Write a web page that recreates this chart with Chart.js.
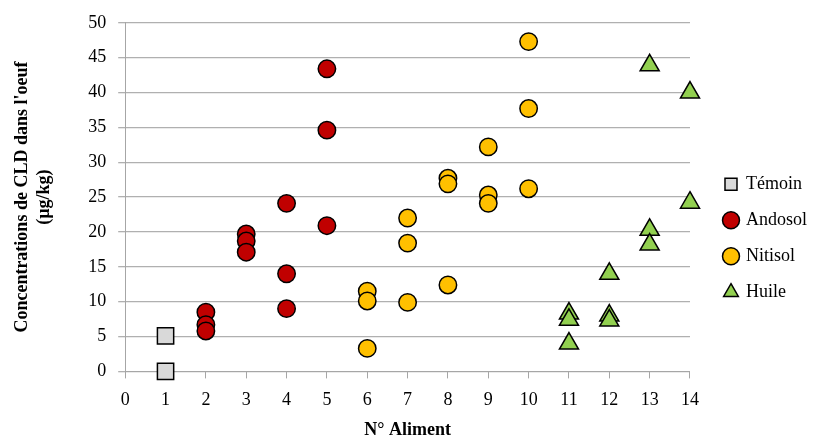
<!DOCTYPE html>
<html>
<head>
<meta charset="utf-8">
<script src="https://cdn.jsdelivr.net/npm/chart.js@4/dist/chart.umd.min.js"></script>
<style>
  body { margin: 0; background: #fff; }
  #wrap { width: 827px; height: 439px; position: relative; }
</style>
</head>
<body>
<div id="wrap"><canvas id="chart"></canvas></div>
<script>
// values: aliment number and CLD concentration
const temoinX = [1, 1];
const temoinY = [5.1, 0];
const andosolX = [2, 2, 2, 3, 3, 3, 4, 4, 4, 5, 5, 5];
const andosolY = [8.5, 6.7, 5.8, 19.7, 18.7, 17.1, 24.1, 14.0, 9.0, 43.4, 34.6, 20.9];
const nitisolX = [6, 6, 6, 7, 7, 7, 8, 8, 8, 9, 9, 9, 10, 10, 10];
const nitisolY = [11.5, 10.1, 3.3, 22.0, 18.4, 9.9, 27.7, 26.9, 12.4, 32.2, 25.3, 24.1, 47.3, 37.7, 26.2];
const huileX = [11, 11, 11, 12, 12, 12, 13, 13, 13, 14, 14];
const huileY = [8.3, 7.4, 4.0, 14.0, 8.0, 7.3, 43.9, 20.3, 18.2, 40.0, 24.2];

const xTicks = [0, 1, 2, 3, 4, 5, 6, 7, 8, 9, 10, 11, 12, 13, 14];
const yTicks = [0, 5, 10, 15, 20, 25, 30, 35, 40, 45, 50];

const serif = "'Liberation Serif', 'Times New Roman', serif";

function toPoints(xs, ys) {
    return xs.map((x, i) => ({ x: x, y: ys[i] }));
}

function makeSeries(label, xs, ys, style, fill, radius) {
    return {
        label: label,
        data: toPoints(xs, ys),
        pointStyle: style,
        pointRadius: radius,
        pointHoverRadius: radius,
        backgroundColor: fill,
        borderColor: '#000',
        pointBorderWidth: 1.5,
        showLine: false,
        clip: false
    };
}

const ctx = document.getElementById('chart').getContext('2d');

new Chart(ctx, {
    type: 'scatter',
    data: {
        datasets: [
            makeSeries('Témoin', temoinX, temoinY, 'rect', '#d9d9d9', 11.5),
            makeSeries('Andosol', andosolX, andosolY, 'circle', '#c00000', 8.7),
            makeSeries('Nitisol', nitisolX, nitisolY, 'circle', '#ffc000', 8.7),
            makeSeries('Huile', huileX, huileY, 'triangle', '#92d050', 11)
        ]
    },
    options: {
        responsive: true,
        maintainAspectRatio: false,
        animation: false,
        layout: { padding: { top: 17, left: 12, right: 10, bottom: 0 } },
        plugins: {
            tooltip: { enabled: false },
            legend: {
                position: 'right',
                align: 'center',
                // empty title just pushes the items down a bit
                title: { display: true, text: ' ', padding: 0, font: { size: 17 } },
                labels: {
                    usePointStyle: true,
                    boxWidth: 12,
                    boxHeight: 12,
                    padding: 18,
                    color: '#000',
                    font: { family: serif, size: 18 }
                }
            }
        },
        scales: {
            x: {
                type: 'linear',
                min: 0,
                max: 14,
                afterBuildTicks: axis => { axis.ticks = xTicks.map(v => ({ value: v })); },
                ticks: { color: '#000', font: { family: serif, size: 18 }, padding: 11 },
                grid: { drawOnChartArea: false, color: '#a6a6a6', tickLength: 7 },
                border: { color: '#a6a6a6' },
                title: {
                    display: true,
                    text: 'N° Aliment',
                    color: '#000',
                    font: { family: serif, size: 18, weight: 'bold', lineHeight: 1 },
                    padding: { top: -1, bottom: 0 }
                }
            },
            y: {
                min: 0,
                max: 50,
                afterBuildTicks: axis => { axis.ticks = yTicks.map(v => ({ value: v })); },
                ticks: { color: '#000', font: { family: serif, size: 18 }, padding: 12 },
                grid: { color: '#b0b0b0', tickLength: 7, lineWidth: 1.3 },
                border: { color: '#a6a6a6' },
                title: {
                    display: true,
                    text: ["Concentrations de CLD dans l'oeuf", '(µg/kg)'],
                    color: '#000',
                    font: { family: serif, size: 18, weight: 'bold', lineHeight: 1.2 },
                    padding: { top: 0, bottom: 21 }
                }
            },
            // spacer between the plot and the legend
            gap: {
                type: 'linear',
                position: 'right',
                display: true,
                grid: { display: false },
                ticks: { display: false },
                border: { display: false },
                afterFit: axis => { axis.width = 17; }
            }
        }
    }
});
</script>
</body>
</html>
